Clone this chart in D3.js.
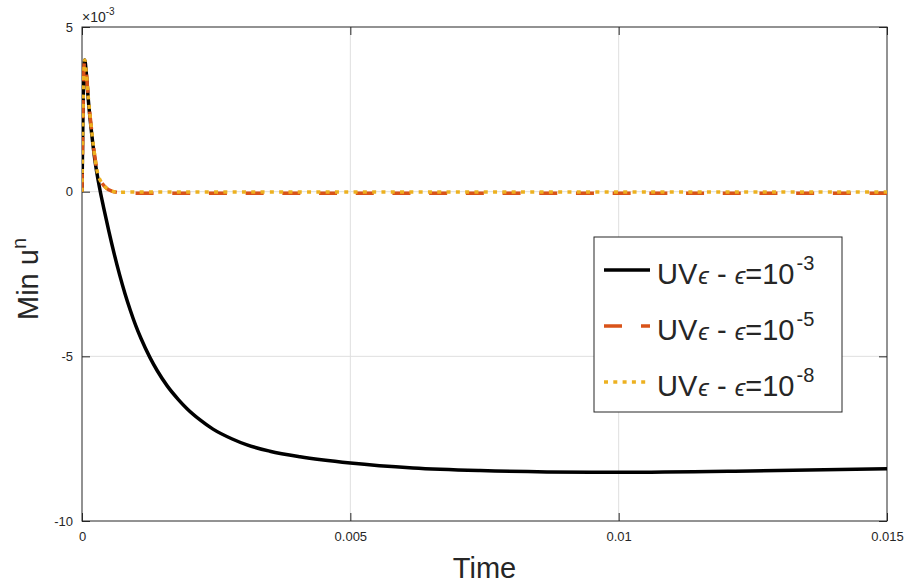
<!DOCTYPE html>
<html>
<head>
<meta charset="utf-8">
<script src="https://cdn.jsdelivr.net/npm/d3@7"></script>
<style>
  body { margin: 0; background: #fff; }
  text { font-family: "Liberation Sans", Arial, Helvetica, sans-serif; fill: #262626; }
</style>
</head>
<body>
<svg width="909" height="587"></svg>
<script>
// data (time in s, min u^n in units of 1e-3)
var timeEps3 = [0, 0.00002, 0.00005, 0.00008, 0.000118, 0.00018, 0.00024, 0.000335, 0.0004, 0.0005, 0.0006,
  0.0007, 0.0008, 0.0009, 0.001, 0.0011, 0.001267, 0.0014, 0.001584, 0.0018, 0.001957, 0.0022,
  0.002441, 0.0028, 0.003075, 0.0035, 0.004062, 0.005, 0.006168, 0.007416, 0.008665, 0.01, 0.01245, 0.015];
var minEps3 = [0, 2.6, 4.0, 3.6, 2.78, 1.77, 0.96, 0.05, -0.46, -1.20, -1.89,
  -2.52, -3.09, -3.60, -4.06, -4.46, -5.04, -5.43, -5.89, -6.32, -6.59, -6.93,
  -7.21, -7.51, -7.69, -7.88, -8.05, -8.24, -8.39, -8.47, -8.51, -8.52, -8.48, -8.41];

var timeSmall = [0, 0.00002, 0.00005, 0.00008, 0.000118, 0.00018, 0.00024, 0.0003, 0.000335, 0.0004, 0.00046,
  0.00055, 0.0007, 0.0009, 0.0012, 0.002, 0.005, 0.01, 0.015];
var minEps5 = [0, 2.6, 4.0, 3.6, 2.85, 1.85, 1.05, 0.5, 0.36, 0.2, 0.1,
  0.02, -0.03, -0.05, -0.05, -0.05, -0.05, -0.05, -0.05];
var minEps8 = [0, 2.6, 4.0, 3.6, 2.85, 1.85, 1.05, 0.5, 0.36, 0.2, 0.1,
  0.02, -0.02, -0.01, -0.01, -0.01, -0.01, -0.01, -0.01];

var xTicks = [0, 0.005, 0.01, 0.015];
var xTickLabels = ['0', '0.005', '0.01', '0.015'];
var yTicks = [5, 0, -5, -10];
var yTickLabels = ['5', '0', '-5', '-10'];
var legendExp = ['-3', '-5', '-8'];

var pLeft = 82, pRight = 887, pTop = 27, pBottom = 521;
var svg = d3.select('svg');

var x = d3.scaleLinear().domain([0, 0.015]).range([pLeft, pRight]);
var y = d3.scaleLinear().domain([-10, 5]).range([pBottom, pTop]);

// grid
svg.append('g').selectAll('line')
  .data(xTicks.slice(1, 3))
  .enter().append('line')
  .attr('x1', d => x(d)).attr('x2', d => x(d))
  .attr('y1', pTop).attr('y2', pBottom)
  .attr('stroke', '#dfdfdf').attr('stroke-width', 1);
svg.append('g').selectAll('line')
  .data(yTicks.slice(1, 3))
  .enter().append('line')
  .attr('x1', pLeft).attr('x2', pRight)
  .attr('y1', d => y(d)).attr('y2', d => y(d))
  .attr('stroke', '#dfdfdf').attr('stroke-width', 1);

// axes
function styleAxis(g) {
  g.select('.domain').remove();
  g.selectAll('line').attr('stroke', '#262626');
  g.selectAll('text').attr('fill', '#262626').style('font-size', '13px')
    .style('font-family', '"Liberation Sans", Arial, sans-serif');
}
svg.append('g').attr('transform', 'translate(0,' + pBottom + ')')
  .call(d3.axisBottom(x).tickValues(xTicks).tickSize(-8).tickPadding(11)
    .tickFormat((d, i) => xTickLabels[i]))
  .call(styleAxis);
svg.append('g').attr('transform', 'translate(0,' + pTop + ')')
  .call(d3.axisTop(x).tickValues(xTicks).tickSize(-8).tickFormat(''))
  .call(styleAxis);
svg.append('g').attr('transform', 'translate(' + pLeft + ',0)')
  .call(d3.axisLeft(y).tickValues(yTicks).tickSize(-8).tickPadding(9)
    .tickFormat((d, i) => yTickLabels[i]))
  .call(styleAxis);
svg.append('g').attr('transform', 'translate(' + pRight + ',0)')
  .call(d3.axisRight(y).tickValues(yTicks).tickSize(-8).tickFormat(''))
  .call(styleAxis);

svg.append('rect')
  .attr('x', pLeft).attr('y', pTop)
  .attr('width', pRight - pLeft).attr('height', pBottom - pTop)
  .attr('fill', 'none').attr('stroke', '#262626').attr('stroke-width', 1);

// exponent label
var expo = svg.append('text').attr('x', pLeft).attr('y', 22).style('font-size', '14px');
expo.append('tspan').text('\u00d710');
expo.append('tspan').attr('dy', -7).style('font-size', '10px').text('-3');

// curves
svg.append('clipPath').attr('id', 'clip')
  .append('rect').attr('x', pLeft).attr('y', pTop)
  .attr('width', pRight - pLeft).attr('height', pBottom - pTop);

var line = d3.line()
  .x(d => x(d[0]))
  .y(d => y(d[1]))
  .curve(d3.curveMonotoneX);

var plot = svg.append('g').attr('clip-path', 'url(#clip)');
plot.append('path')
  .datum(d3.zip(timeEps3, minEps3))
  .attr('d', line)
  .attr('fill', 'none').attr('stroke', '#000').attr('stroke-width', 3.5);
plot.append('path')
  .datum(d3.zip(timeSmall, minEps5))
  .attr('d', line)
  .attr('fill', 'none').attr('stroke', '#D95319').attr('stroke-width', 3.5)
  .attr('stroke-dasharray', '18,18.7');
plot.append('path')
  .datum(d3.zip(timeSmall, minEps8))
  .attr('d', line)
  .attr('fill', 'none').attr('stroke', '#EDB120').attr('stroke-width', 3.5)
  .attr('stroke-dasharray', '4,5.3');

// axis labels
var ylab = svg.append('text')
  .attr('transform', 'translate(38,279) rotate(-90)')
  .attr('text-anchor', 'middle')
  .style('font-size', '29px');
ylab.append('tspan').text('Min u');
ylab.append('tspan').attr('dy', -12).style('font-size', '20px').text('n');

svg.append('text')
  .attr('x', (pLeft + pRight) / 2).attr('y', 578)
  .attr('text-anchor', 'middle')
  .style('font-size', '29px')
  .text('Time');

// legend
var legend = svg.append('g');
legend.append('rect')
  .attr('x', 594).attr('y', 237).attr('width', 248).attr('height', 175)
  .attr('fill', '#fff').attr('stroke', '#262626').attr('stroke-width', 1);

var rowY = [270, 326, 382];
var legColors = ['#000', '#D95319', '#EDB120'];
var legDash = [null, '18,19', '4,5.3'];
legendExp.forEach(function (e, i) {
  legend.append('line')
    .attr('x1', 604).attr('x2', 650)
    .attr('y1', rowY[i]).attr('y2', rowY[i])
    .attr('stroke', legColors[i]).attr('stroke-width', 3.5)
    .attr('stroke-dasharray', legDash[i]);
  var t = legend.append('text')
    .attr('x', 657).attr('y', rowY[i] + 14)
    .style('font-size', '29px');
  t.append('tspan').text('UV');
  t.append('tspan').attr('dx', 1).style('font-size', '24px').style('font-style', 'italic').text('\u03f5');
  t.append('tspan').text(' - ');
  t.append('tspan').style('font-size', '24px').style('font-style', 'italic').text('\u03f5');
  t.append('tspan').text('=10');
  t.append('tspan').attr('dx', 2).attr('dy', -14).style('font-size', '20px').text(e);
});
</script>
</body>
</html>
